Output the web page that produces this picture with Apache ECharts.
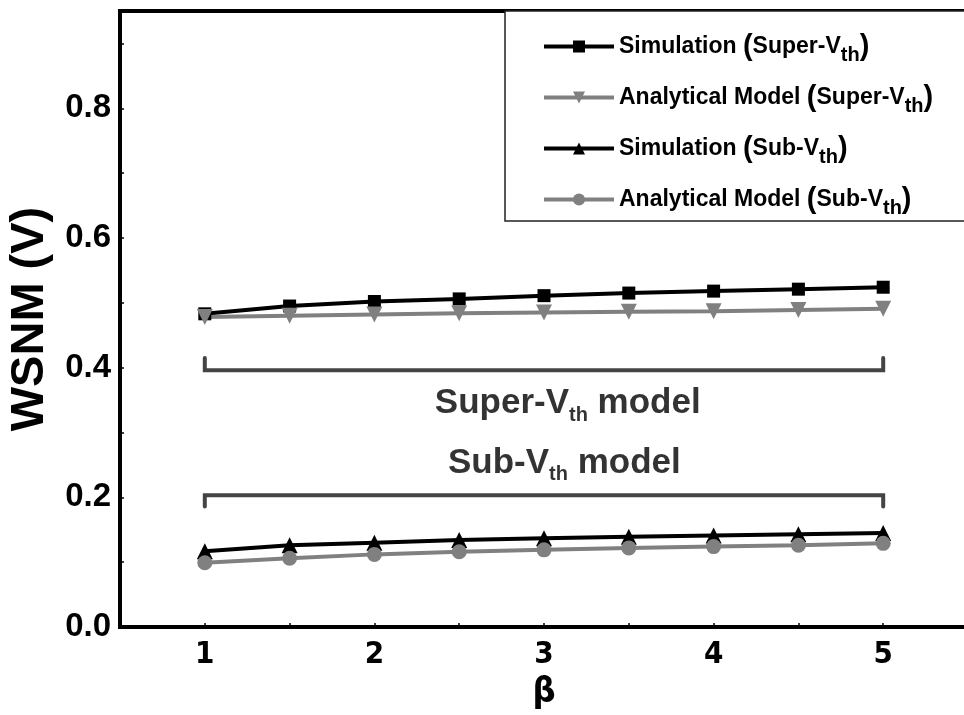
<!DOCTYPE html>
<html>
<head>
<meta charset="utf-8">
<script src="https://cdn.jsdelivr.net/npm/echarts@6/dist/echarts.min.js"></script>
<style>
  html, body { margin: 0; padding: 0; background: #fff; }
  #chart { width: 964px; height: 715px; }
</style>
</head>
<body>
<div id="chart"></div>
<script>
// β sweep and the four WSNM curves (V)
const beta = [1, 1.5, 2, 2.5, 3, 3.5, 4, 4.5, 5];
const simSuper   = [0.483, 0.495, 0.502, 0.506, 0.511, 0.515, 0.518, 0.521, 0.524];
const modelSuper = [0.478, 0.480, 0.482, 0.484, 0.485, 0.486, 0.487, 0.489, 0.491];
const simSub     = [0.117, 0.126, 0.130, 0.134, 0.137, 0.139, 0.141, 0.143, 0.145];
const modelSub   = [0.099, 0.106, 0.112, 0.116, 0.119, 0.122, 0.124, 0.126, 0.129];

// Brackets grouping the two model regimes
const bracketX      = [1, 1, 5, 5];
const superBracketY = [0.415, 0.396, 0.396, 0.415];
const subBracketY   = [0.186, 0.203, 0.203, 0.186];

const seriesNames = [
  'Simulation (Super-Vth)',
  'Analytical Model (Super-Vth)',
  'Simulation (Sub-Vth)',
  'Analytical Model (Sub-Vth)'
];
const yTicks = [0, 0.2, 0.4, 0.6, 0.8];

const FONT = '"Liberation Sans", Arial, sans-serif';
const NARROW = '"Liberation Sans Narrow", "Arial Narrow", "DejaVu Sans Condensed", "Liberation Sans", sans-serif';
const BLACK = '#000000';
const GREY = '#808080';

const zip = (xs, ys) => xs.map((x, i) => [x, ys[i]]);

function richName(name) {
  return name
    .replace(/\(/g, '{p|(}')
    .replace(/\)/g, '{p|)}')
    .replace('Vth', 'V{s|th}');
}

const chart = echarts.init(document.getElementById('chart'), null, { renderer: 'canvas' });

const lineSeries = (name, ys, color, symbol, size, rotate) => ({
  name, type: 'line', data: zip(beta, ys),
  symbol, symbolSize: size, symbolRotate: rotate || 0,
  lineStyle: { color, width: 4 },
  itemStyle: { color },
  z: 3
});

const bracketSeries = ys => ({
  type: 'line', data: zip(bracketX, ys), symbol: 'none', silent: true,
  lineStyle: { color: '#444444', width: 4, cap: 'round', join: 'miter' },
  z: 2
});

chart.setOption({
  animation: false,
  backgroundColor: '#ffffff',
  grid: {
    left: 120, top: 11, right: -4, bottom: 88,
    outerBoundsMode: 'none',
    containLabel: false,
    show: true, borderColor: BLACK, borderWidth: 4, backgroundColor: 'transparent'
  },
  legend: {
    data: seriesNames,
    orient: 'vertical',
    left: 505, top: 11,
    padding: [21, 120, 3, 37],
    itemGap: 18,
    itemWidth: 70, itemHeight: 15,
    lineStyle: { width: 4 },
    backgroundColor: '#ffffff',
    borderColor: '#222222', borderWidth: 1.5,
    formatter: richName,
    textStyle: {
      fontFamily: FONT, fontWeight: 'bold', fontSize: 23, color: BLACK,
      rich: {
        s: { fontFamily: FONT, fontWeight: 'bold', fontSize: 20, color: BLACK, padding: [17, 0, 0, 0] },
        p: { fontFamily: FONT, fontWeight: 'bold', fontSize: 29, color: BLACK }
      }
    }
  },
  xAxis: {
    type: 'value', min: 0.5, max: 5.5, interval: 0.5,
    name: 'β', nameLocation: 'middle', nameGap: 42,
    nameTextStyle: { fontFamily: NARROW, fontWeight: 'bold', fontSize: 36, color: BLACK },
    axisLine: { lineStyle: { color: BLACK, width: 4 } },
    axisTick: { inside: true, length: 4, lineStyle: { color: BLACK, width: 1.5 } },
    splitLine: { show: false },
    axisLabel: {
      margin: 12, color: BLACK, fontFamily: NARROW, fontWeight: 'bold', fontSize: 31,
      formatter: v => (Math.abs(v - Math.round(v)) < 1e-6 ? String(Math.round(v)) : '')
    }
  },
  yAxis: {
    type: 'value', min: 0, max: 0.95, interval: 0.1,
    name: 'WSNM (V)', nameLocation: 'middle', nameGap: 66,
    nameTextStyle: { fontFamily: FONT, fontWeight: 'bold', fontSize: 47, color: BLACK },
    axisLine: { lineStyle: { color: BLACK, width: 4 } },
    axisTick: { inside: true, length: 4, lineStyle: { color: BLACK, width: 1.5 } },
    splitLine: { show: false },
    axisLabel: {
      margin: 9, color: BLACK, fontFamily: FONT, fontWeight: 'bold', fontSize: 33,
      formatter: v => (yTicks.some(t => Math.abs(t - v) < 1e-6) ? v.toFixed(1) : '')
    }
  },
  series: [
    lineSeries(seriesNames[0], simSuper, BLACK, 'rect', 13),
    lineSeries(seriesNames[1], modelSuper, GREY, 'triangle', 16, 180),
    lineSeries(seriesNames[2], simSub, BLACK, 'triangle', 16),
    lineSeries(seriesNames[3], modelSub, GREY, 'circle', 15),
    bracketSeries(superBracketY),
    bracketSeries(subBracketY),
    {
      type: 'scatter', silent: true, symbolSize: 0, z: 4,
      data: [
        { value: [3.14, 0.345], label: { formatter: 'Super-V{s|th} model' } },
        { value: [3.12, 0.253], label: { formatter: 'Sub-V{s|th} model' } }
      ],
      label: {
        show: true, position: 'inside',
        fontFamily: FONT, fontWeight: 'bold', fontSize: 35, color: BLACK,
        rich: {
          s: { fontFamily: FONT, fontWeight: 'bold', fontSize: 20, color: BLACK, padding: [24, 0, 0, 0] }
        }
      }
    }
  ]
});
</script>
</body>
</html>
